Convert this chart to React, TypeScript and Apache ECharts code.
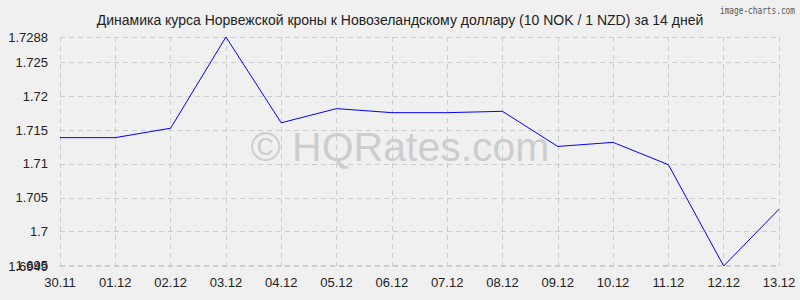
import React, { useEffect, useRef } from "react";
import * as echarts from "echarts";

const categories = ["30.11", "01.12", "02.12", "03.12", "04.12", "05.12", "06.12", "07.12", "08.12", "09.12", "10.12", "11.12", "12.12", "13.12"];
const rates = [1.7139, 1.7139, 1.7153, 1.7288, 1.7161, 1.7182, 1.7176, 1.7176, 1.7178, 1.7126, 1.7132, 1.7099, 1.6949, 1.7033];
const yTicks = [1.6949, 1.695, 1.7, 1.705, 1.71, 1.715, 1.72, 1.725, 1.7288];
const yMainLabels = [1.695, 1.7, 1.705, 1.71, 1.715, 1.72, 1.725, 1.7288];
const yMinLabel = [1.6949];
const yMin = 1.6949;
const yMax = 1.7288;
const titleText = "Динамика курса Норвежской кроны к Новозеландскому доллару (10 NOK / 1 NZD) за 14 дней";

export default function App() {
  const ref = useRef<HTMLDivElement>(null);
  useEffect(() => {
    if (!ref.current) return;
    const chart = echarts.init(ref.current, null, { renderer: "svg" });
    const font = "'Liberation Sans', Arial, sans-serif";
    const fmt = (v: number) => String(parseFloat(v.toFixed(4)));
    const labelBase = { fontFamily: font, fontSize: 13, color: "#222", margin: 12, formatter: fmt };
    chart.setOption({
      animation: false,
      backgroundColor: "#f0f0f0",
      title: {
        text: titleText,
        left: "center",
        top: 8,
        textStyle: { fontFamily: font, fontSize: 14, fontWeight: "normal", color: "#222" },
      },
      graphic: [
        {
          type: "text",
          x: 795,
          y: 6,
          scaleX: 0.78,
          style: { text: "image-charts.com", align: "right", verticalAlign: "top", fontFamily: "'DejaVu Sans Mono', monospace", fontSize: 10, fill: "#555" },
        },
        {
          type: "text",
          left: "center",
          top: 126,
          z: -1,
          style: { text: "© HQRates.com", fontFamily: font, fontSize: 41, fill: "rgba(190,190,190,0.7)" },
        },
      ],
      grid: { left: 60, right: 21, top: 37, bottom: 34 },
      xAxis: {
        type: "category",
        data: categories,
        boundaryGap: false,
        axisLine: { show: false },
        axisTick: { show: false },
        axisLabel: { fontFamily: font, fontSize: 13, color: "#222", margin: 10, interval: 0 },
        splitLine: { show: true, interval: 0, lineStyle: { color: "#cccccc", type: [5, 4], width: 1 } },
      },
      yAxis: [
        {
          type: "value",
          min: yMin,
          max: yMax,
          axisLine: { show: false },
          axisTick: { show: false, customValues: yTicks },
          axisLabel: { ...labelBase, customValues: yMainLabels, showMinLabel: true, showMaxLabel: true },
          splitLine: { show: true, lineStyle: { color: "#cccccc", type: [5, 4], width: 1 } },
        },
        {
          type: "value",
          position: "left",
          min: yMin,
          max: yMax,
          axisLine: { show: false },
          axisTick: { show: false, customValues: yMinLabel },
          axisLabel: { ...labelBase, customValues: yMinLabel, showMinLabel: true },
          splitLine: { show: false },
        },
      ],
      series: [
        {
          type: "line",
          data: rates,
          yAxisIndex: 0,
          symbol: "none",
          lineStyle: { color: "#0000ff", width: 1 },
        },
      ],
    });
    return () => chart.dispose();
  }, []);
  return <div ref={ref} style={{ position: "fixed", left: 0, top: 0, width: 800, height: 300 }} />;
}
